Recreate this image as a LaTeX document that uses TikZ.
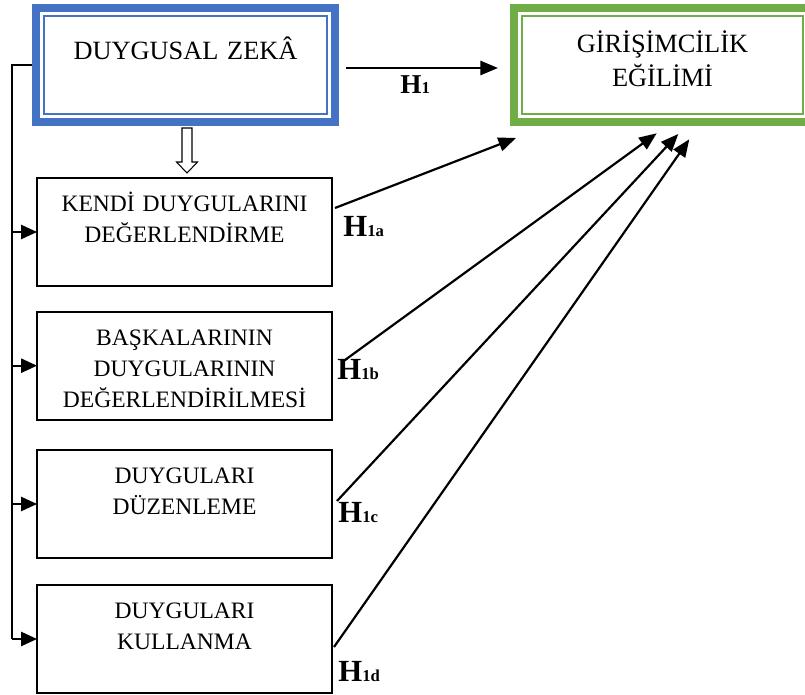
\documentclass[tikz,border=0pt]{standalone}
\usepackage{fontspec}
\setmainfont{Liberation Serif}
\usetikzlibrary{arrows.meta}
\definecolor{zekablue}{HTML}{4472C4}
\definecolor{egilimgreen}{HTML}{70AD47}
\newdimen\unitpx
\unitpx=0.02cm
\newcommand{\hsub}[1]{{\fontsize{9.5}{10}\selectfont #1}}
\begin{document}
\begin{tikzpicture}[x=0.02cm, y=-0.02cm,
	dframe/.style={draw=#1, line width=4.5pt, outer sep=0pt, inner sep=0pt, anchor=north west, align=center, font=\fontsize{15}{19.3}\selectfont},
	innerframe/.style={draw=#1, line width=1.1pt},
	dimbox/.style={draw, line width=1.1pt, outer sep=0pt, inner sep=0pt, anchor=north west, text width=295\unitpx, align=center, text height=33.5\unitpx, text depth=74.5\unitpx, font=\fontsize{13.4}{17.75}\selectfont},
	conn/.style={line width=1.25pt, -{Triangle[length=10pt,width=8pt]}},
	feed/.style={line width=1.1pt},
	branch/.style={line width=1.1pt, -{Triangle[length=9pt,width=8pt]}},
	hyp/.style={anchor=base west, inner sep=0pt, font=\bfseries\fontsize{17.5}{18}\selectfont}]
	\useasboundingbox (0,0) rectangle (805,695);
	% ana kavramlar
	\node[dframe=zekablue, text width=299\unitpx, text height=52\unitpx, text depth=62\unitpx] (dz) at (36,8) {DUYGUSAL ZEKÂ};
	\draw[innerframe=zekablue] ([shift={(8,8)}]dz.north west) rectangle ([shift={(-8,-8)}]dz.south east);
	\node[dframe=egilimgreen, text width=297\unitpx, text height=45\unitpx, text depth=69\unitpx, font=\fontsize{15}{19.3}\selectfont] (gz) at (514,8) {GİRİŞİMCİLİK\\EĞİLİMİ};
	\draw[innerframe=egilimgreen] ([shift={(8,8)}]gz.north west) rectangle ([shift={(-8,-8)}]gz.south east);
	% alt boyutlar
	\node[dimbox] (kd) at (37,178) {KENDİ DUYGULARINI\\DEĞERLENDİRME};
	\node[dimbox] (bd) at (37,311.7) {BAŞKALARININ\\DUYGULARININ\\DEĞERLENDİRİLMESİ};
	\node[dimbox] (dd) at (37,450) {DUYGULARI\\DÜZENLEME};
	\node[dimbox] (dk) at (37,585) {DUYGULARI\\KULLANMA};
	% sol besleme hatti
	\coordinate (trunk) at (12,0 |- dk.west);
	\draw[feed] ([xshift=-4\unitpx]dz.west) -| (trunk);
	\foreach \b in {kd,bd,dd,dk}
		\draw[branch] (trunk |- \b.west) -- (\b.west);
	% bos ok
	\coordinate (hollow) at ([shift={(1.5,6)}]dz.south);
	\draw[line width=0.6pt] (hollow) ++(-5,0) -- ++(0,34) -- ++(-5.5,0) -- ++(10.5,11) -- ++(10.5,-11) -- ++(-5.5,0) -- ++(0,-34) -- cycle;
	% hipotezler
	\draw[conn] ([shift={(11,3)}]dz.east) -- ([shift={(-16,3)}]gz.west);
	\draw[conn] ([shift={(3,-24)}]kd.east) -- ([shift={(2,16)}]gz.south west);
	\draw[conn] ([shift={(10,-3.5)}]bd.east) -- ([shift={(142.7,11.3)}]gz.south west);
	\draw[conn] ([shift={(5,-3)}]dd.east) -- ([shift={(164.3,12)}]gz.south west);
	\draw[conn] ([shift={(2,8)}]dk.east) -- ([shift={(175.3,17.3)}]gz.south west);
	\node[hyp, font=\bfseries\fontsize{15.5}{16}\selectfont] (h1) at (400,93.3) {H\hsub{1}};
	\node[hyp] (h1a) at (343,236.7) {H\hsub{1a}};
	\node[hyp] (h1b) at (337,379.3) {H\hsub{1b}};
	\node[hyp] (h1c) at (338,523) {H\hsub{1c}};
	\node[hyp] (h1d) at (338,681.7) {H\hsub{1d}};
\end{tikzpicture}
\end{document}
